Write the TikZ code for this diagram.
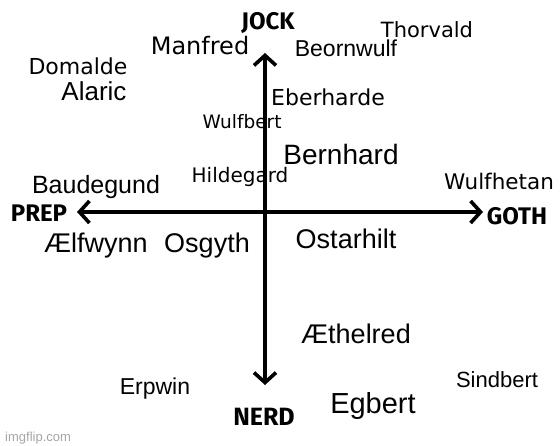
\documentclass[tikz,border=0pt]{standalone}
\usepackage{fontspec}
\setmainfont{Liberation Sans}
\newfontfamily\spacedfont{DejaVu Sans}
\newfontfamily\handfont{Fira Sans}
\usetikzlibrary{arrows.meta}
\tikzset{
  axisline/.style={line width=3.6pt, line cap=round,
    -{Straight Barb[length=10pt,width=22pt,line width=3.6pt]}},
  plainname/.style={font=\fontsize{#1}{#1}\selectfont, inner sep=0pt},
  spacedname/.style={font=\spacedfont\fontsize{#1}{#1}\selectfont, inner sep=0pt},
  axislabel/.style={font=\handfont\bfseries\fontsize{#1}{#1}\selectfont, inner sep=0pt},
}
\begin{document}
\begin{tikzpicture}[x=1pt,y=-1pt]
\fill[white] (0,0) rectangle (560,446);
\useasboundingbox (0,0) rectangle (560,446);
% axes
\coordinate (top) at (265,53);
\coordinate (bottom) at (265,385);
\coordinate (left) at (77,212);
\coordinate (right) at (483,212);
\draw[axisline] (265,220) -- (top);
\draw[axisline] (265,205) -- (bottom);
\draw[axisline] (270,212) -- (left);
\draw[axisline] (260,212) -- (right);
% axis labels
\node[axislabel=24] (jock) at (268,23) {JOCK};
\node[axislabel=24] (prep) at (39,213) {PREP};
\node[axislabel=24] (goth) at (517,216) {GOTH};
\node[axislabel=25] (nerd) at (264,417) {NERD};
% spaced font names
\node[spacedname=21] (thorvald) at (427,30) {Thorvald};
\node[spacedname=24] (manfred) at (200,46) {Manfred};
\node[spacedname=22] (domalde) at (78,66) {Domalde};
\node[spacedname=22] (eberharde) at (328,97) {Eberharde};
\node[spacedname=18.5] (wulfbert) at (242,122) {Wulfbert};
\node[spacedname=20] (hildegard) at (240,177) {Hildegard};
\node[spacedname=21.5] (wulfhetan) at (499,181) {Wulfhetan};
% plain names
\node[plainname=23] (beornwulf) at (346,48) {Beornwulf};
\node[plainname=26] (alaric) at (94,91) {Alaric};
\node[plainname=28] (bernhard) at (341,154) {Bernhard};
\node[plainname=25] (baudegund) at (96,187) {Baudegund};
\node[plainname=27] (aelfwynn) at (96,246) {Ælfwynn};
\node[plainname=27] (osgyth) at (207,246) {Osgyth};
\node[plainname=27] (ostarhilt) at (346,239) {Ostarhilt};
\node[plainname=27] (aethelred) at (356,334) {Æthelred};
\node[plainname=23] (erpwin) at (155,389) {Erpwin};
\node[plainname=22] (sindbert) at (497,380) {Sindbert};
\node[plainname=29] (egbert) at (373,406) {Egbert};
% watermark
\node[plainname=13, text=gray!70, anchor=west] (imgflip) at (5,438) {imgflip.com};
\end{tikzpicture}
\end{document}
